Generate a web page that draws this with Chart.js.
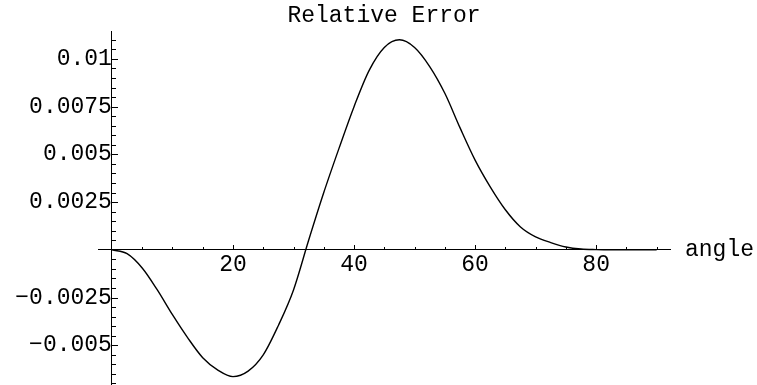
<!DOCTYPE html>
<html>
<head>
<meta charset="utf-8">
<script src="https://cdn.jsdelivr.net/npm/chart.js@4.4.0/dist/chart.umd.min.js"></script>
<style>
  html, body { margin: 0; padding: 0; background: #fff; }
  #wrap { width: 757px; height: 385px; }
</style>
</head>
<body>
<div id="wrap"><canvas id="errChart"></canvas></div>
<script>
// angle samples (degrees) and relative error at each
const angles = [0, 2.5, 5, 7.5, 10, 12.5, 15, 17.5, 20, 22.5, 25, 27.5, 30, 32.5, 35, 37.5,
                40, 42.5, 45, 47.5, 50, 52.5, 55, 57.5, 60, 62.5, 65, 67.5, 70, 72.5,
                75, 77.5, 80, 82.5, 85, 87.5, 90];
const relErr = [0, -0.0002, -0.00095, -0.0021, -0.0034, -0.0046, -0.00565, -0.0063, -0.00664,
                -0.00635, -0.0055, -0.00396, -0.0021, 0.0005, 0.003, 0.0053,
                0.0075, 0.0094, 0.0106, 0.011, 0.0106, 0.0096, 0.0082, 0.0064, 0.0047,
                0.0033, 0.0021, 0.0012, 0.00068, 0.00038, 0.00015, 0.00004, 0.00001, 0, 0, 0, 0];

// labelled ticks
const xTickValues = [20, 40, 60, 80];
const yTickValues = [-0.005, -0.0025, 0.0025, 0.005, 0.0075, 0.01];
const yTickText = ['\u22120.005', '\u22120.0025', '0.0025', '0.005', '0.0075', '0.01'];

// minor tick spacing
const xMinorStep = 5;
const yMinorStep = 0.0005;

const FONT = "'Liberation Mono', 'DejaVu Sans Mono', monospace";

function near(a, b) { return Math.abs(a - b) < 1e-9; }

// Mathematica-style ticks: pointing into the plot from the axes
const inwardTicks = {
  id: 'inwardTicks',
  afterDraw(chart) {
    const c = chart.ctx;
    const xs = chart.scales.x, ys = chart.scales.y;
    const x0 = Math.round(xs.getPixelForValue(0));
    const y0 = Math.round(ys.getPixelForValue(0));
    c.save();
    c.fillStyle = '#000';
    for (let i = 1; i * xMinorStep <= xs.max; i++) {
      const v = i * xMinorStep;
      const px = Math.round(xs.getPixelForValue(v));
      const len = xTickValues.includes(v) ? 5 : 3;
      c.fillRect(px, y0 - len, 1, len);
    }
    for (let i = Math.ceil(ys.min / yMinorStep); i * yMinorStep <= ys.max; i++) {
      if (i === 0) continue;
      const v = i * yMinorStep;
      const py = Math.round(ys.getPixelForValue(v));
      const major = yTickValues.some(y => near(y, v));
      c.fillRect(x0, py, major ? 6 : 4, 1);
    }

    // axis name at the end of the horizontal axis
    c.font = '23px ' + FONT;
    c.textAlign = 'left';
    c.textBaseline = 'alphabetic';
    c.fillText('angle', chart.chartArea.right + 15, y0 + 6);
    c.restore();
  }
};

const chartCtx = document.getElementById('errChart').getContext('2d');

const errChart = new Chart(chartCtx, {
  type: 'line',
  data: {
    datasets: [{
      data: angles.map((a, i) => ({ x: a, y: relErr[i] })),
      borderColor: '#000',
      borderWidth: 1.4,
      pointRadius: 0,
      fill: false,
      cubicInterpolationMode: 'monotone'
    }]
  },
  options: {
    responsive: true,
    maintainAspectRatio: false,
    animation: false,
    layout: { padding: { left: 98, right: 87, top: 0, bottom: 0 } },
    plugins: {
      legend: { display: false },
      tooltip: { enabled: false },
      title: {
        display: true,
        text: 'Relative Error',
        color: '#000',
        font: { family: FONT, size: 23, weight: 'normal' },
        padding: { top: 2, bottom: 2 }
      }
    },
    scales: {
      x: {
        type: 'linear',
        position: { y: 0 },
        min: -2.3,
        max: 92.2,
        afterBuildTicks(scale) {
          scale.ticks = xTickValues.map(v => ({ value: v }));
        },
        ticks: {
          autoSkip: false,
          maxRotation: 0,
          color: '#000',
          padding: 1,
          font: { family: FONT, size: 23 }
        },
        grid: { display: false, drawTicks: false, lineWidth: 1 },
        border: { display: true, color: '#000', width: 1 }
      },
      y: {
        type: 'linear',
        position: { x: 0 },
        min: -0.00708,
        max: 0.01143,
        afterBuildTicks(scale) {
          scale.ticks = yTickValues.map(v => ({ value: v }));
        },
        // labels sit well inside the axis span, no overhang room needed
        afterFit(scale) {
          scale.paddingTop = 0;
          scale.paddingBottom = 0;
        },
        ticks: {
          autoSkip: false,
          color: '#000',
          padding: 4,
          font: { family: FONT, size: 23 },
          callback: v => yTickText[yTickValues.findIndex(y => near(y, v))]
        },
        grid: { display: false, drawTicks: false, lineWidth: 1 },
        border: { display: true, color: '#000', width: 1 }
      }
    }
  },
  plugins: [inwardTicks]
});
</script>
</body>
</html>
